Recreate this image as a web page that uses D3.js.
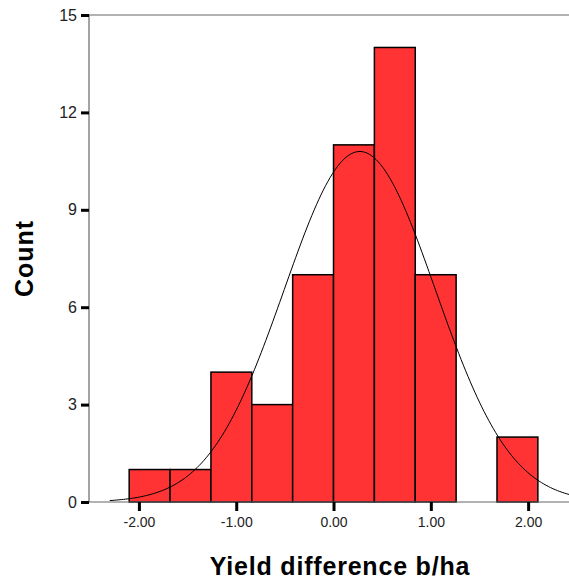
<!DOCTYPE html>
<html>
<head>
<meta charset="utf-8">
<script src="https://cdn.jsdelivr.net/npm/d3@7"></script>
<style>
  body { margin: 0; background: #fff; }
  text { font-family: "Liberation Sans", Arial, sans-serif; }
</style>
</head>
<body>
<div class="chart"></div>
<script>
// histogram bins (bin edges in b/ha) and counts
const binEdges = [-2.10, -1.68, -1.26, -0.84, -0.42, 0.00, 0.42, 0.84, 1.26, 1.68, 2.10];
const binCounts = [1, 1, 4, 3, 7, 11, 14, 7, 0, 2];
const yTicks = [0, 3, 6, 9, 12, 15];
const xTicks = [-2, -1, 0, 1, 2];
// fitted normal curve parameters
const fitMean = 0.27;
const fitSd = 0.776;
const curveRange = [-2.30, 2.42];

const svg_width = 569;
const svg_height = 580;
const margin = {top: 15, right: 0, bottom: 78, left: 89};
const chart_width = svg_width - margin.left - margin.right;
const chart_height = svg_height - margin.top - margin.bottom;

const svg = d3.select('.chart').append('svg')
    .attr('width', svg_width).attr('height', svg_height);
const g = svg.append('g').attr('transform', `translate(${margin.left},${margin.top})`);

const xScale = d3.scaleLinear([-2.513, 2.42], [0, chart_width]);
const yScale = d3.scaleLinear([0, 15], [chart_height, 0]);

const bins = binCounts.map((c, i) => ({x0: binEdges[i], x1: binEdges[i + 1], n: c}));

// bars
g.selectAll('.bar').data(bins.filter(d => d.n > 0)).enter()
    .append('rect').attr('class', 'bar')
    .attr('x', d => xScale(d.x0))
    .attr('y', d => yScale(d.n))
    .attr('width', d => xScale(d.x1) - xScale(d.x0))
    .attr('height', d => yScale(0) - yScale(d.n))
    .style('fill', '#ff3333')
    .style('stroke', '#000')
    .style('stroke-width', 1.5);

// normal curve
const total = d3.sum(binCounts);
const binW = binEdges[1] - binEdges[0];
const curvePts = d3.range(0, 201).map(i => {
    const x = curveRange[0] + (curveRange[1] - curveRange[0]) * i / 200;
    const z = (x - fitMean) / fitSd;
    return [x, total * binW * Math.exp(-0.5 * z * z) / (fitSd * Math.sqrt(2 * Math.PI))];
});
g.append('path').datum(curvePts)
    .attr('d', d3.line().x(d => xScale(d[0])).y(d => yScale(d[1])))
    .style('fill', 'none').style('stroke', '#000').style('stroke-width', 1);

// frame lines
g.append('line').attr('x1', 0).attr('x2', chart_width).attr('y1', 0).attr('y2', 0)
    .style('stroke', '#666').style('stroke-width', 1.2);
g.append('line').attr('x1', 0).attr('x2', 0).attr('y1', 0).attr('y2', chart_height)
    .style('stroke', '#666').style('stroke-width', 1.2);
g.append('line').attr('x1', 0).attr('x2', chart_width).attr('y1', chart_height).attr('y2', chart_height)
    .style('stroke', '#666').style('stroke-width', 1.2);

// y axis
const yAxis = d3.axisLeft(yScale).tickValues(yTicks).tickSize(8).tickPadding(4);
const yAxisDraw = g.append('g').attr('class', 'y axis').call(yAxis);
yAxisDraw.select('.domain').remove();
yAxisDraw.selectAll('line').style('stroke', '#000').style('stroke-width', 3);
yAxisDraw.selectAll('text').style('font-size', '16px').style('fill', '#222');

// x axis
const xAxis = d3.axisBottom(xScale).tickValues(xTicks)
    .tickFormat(d => d3.format('.2f')(d).replace('\u2212', '-'))
    .tickSize(9).tickPadding(6);
const xAxisDraw = g.append('g').attr('class', 'x axis')
    .attr('transform', `translate(0,${chart_height})`).call(xAxis);
xAxisDraw.select('.domain').remove();
xAxisDraw.selectAll('line').style('stroke', '#000').style('stroke-width', 3);
xAxisDraw.selectAll('text').style('font-size', '14px').style('fill', '#222');

// axis titles
svg.append('text')
    .attr('transform', `translate(33,${margin.top + chart_height / 2}) rotate(-90)`)
    .style('text-anchor', 'middle').style('font-size', '25px').style('font-weight', 'bold')
    .style('letter-spacing', '1px')
    .text('Count');

svg.append('text')
    .attr('x', 340).attr('y', 575)
    .style('text-anchor', 'middle').style('font-size', '25px').style('font-weight', 'bold')
    .style('letter-spacing', '0.8px')
    .text('Yield difference b/ha');
</script>
</body>
</html>
